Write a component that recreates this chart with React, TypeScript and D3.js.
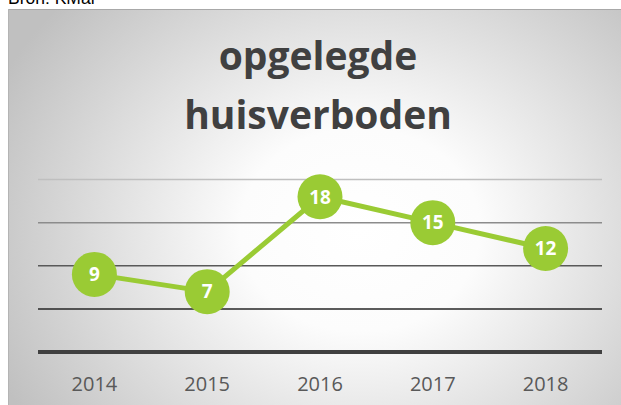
import React from "react";
import * as d3 from "d3";

const years = ["2014", "2015", "2016", "2017", "2018"];
const values = [9, 7, 18, 15, 12];
const gridValues = [5, 10, 15, 20];
const gridColors = ["#262626", "#595959", "#8c8c8c", "#bfbfbf"];
const titleLines = ["opgelegde", "huisverboden"];
const sourceText = "Bron: KMar";

const W = 621;
const H = 405;

export default function App() {
  const x = d3.scaleBand<string>().domain(years).range([38, 602]);
  const y = d3.scaleLinear().domain([0, 20]).range([352, 179.5]);
  const cx = (d: string) => (x(d) as number) + x.bandwidth() / 2;
  const line = d3
    .line<number>()
    .x((_, i) => cx(years[i]))
    .y((v) => y(v));

  return (
    <svg
      width={W}
      height={H}
      style={{ position: "absolute", left: 0, top: 0, background: "#fff" }}
    >
      <defs>
        <radialGradient
          id="bg"
          gradientUnits="userSpaceOnUse"
          cx={360}
          cy={230}
          r={400}
          gradientTransform="translate(360 230) scale(1 0.85) translate(-360 -230)"
        >
          <stop offset="0" stopColor="#ffffff" />
          <stop offset="0.3" stopColor="#fcfcfc" />
          <stop offset="1" stopColor="#c0c0c0" />
        </radialGradient>
      </defs>
      <text
        x={8}
        y={4}
        fontFamily="Liberation Sans, Arial, sans-serif"
        fontSize={17.5}
        fill="#000"
      >
        {sourceText}
      </text>
      <rect x={8} y={9} width={W - 8} height={H - 9} fill="url(#bg)" />
      <line x1={8} x2={W} y1={9.5} y2={9.5} stroke="#a8a8a8" strokeWidth={1} />
      <line x1={8.5} x2={8.5} y1={9} y2={H} stroke="#b4b4b4" strokeWidth={1} />

      {titleLines.map((t, i) => (
        <text
          key={t}
          x={318}
          y={70 + i * 59}
          textAnchor="middle"
          fontFamily="Open Sans, sans-serif"
          fontWeight={700}
          fontSize={39}
          fill="#404040"
        >
          {t}
        </text>
      ))}

      {gridValues.map((g, i) => (
        <line
          key={g}
          x1={38}
          x2={602}
          y1={y(g)}
          y2={y(g)}
          stroke={gridColors[i]}
          strokeWidth={1.5}
        />
      ))}
      <line x1={38} x2={602} y1={y(0)} y2={y(0)} stroke="#404040" strokeWidth={4} />

      {years.map((yr) => (
        <text
          key={yr}
          x={cx(yr)}
          y={391}
          textAnchor="middle"
          fontFamily="Open Sans, sans-serif"
          fontSize={20}
          fill="#595959"
        >
          {yr}
        </text>
      ))}

      <path
        d={line(values) || ""}
        fill="none"
        stroke="#9acb34"
        strokeWidth={5}
        strokeLinejoin="round"
      />
      {values.map((v, i) => (
        <g key={years[i]}>
          <circle cx={cx(years[i])} cy={y(v)} r={22.5} fill="#9acb34" />
          <text
            x={cx(years[i])}
            y={y(v)}
            dy="0.36em"
            textAnchor="middle"
            fontFamily="Open Sans, sans-serif"
            fontWeight={700}
            fontSize={19}
            fill="#ffffff"
          >
            {v}
          </text>
        </g>
      ))}
    </svg>
  );
}
